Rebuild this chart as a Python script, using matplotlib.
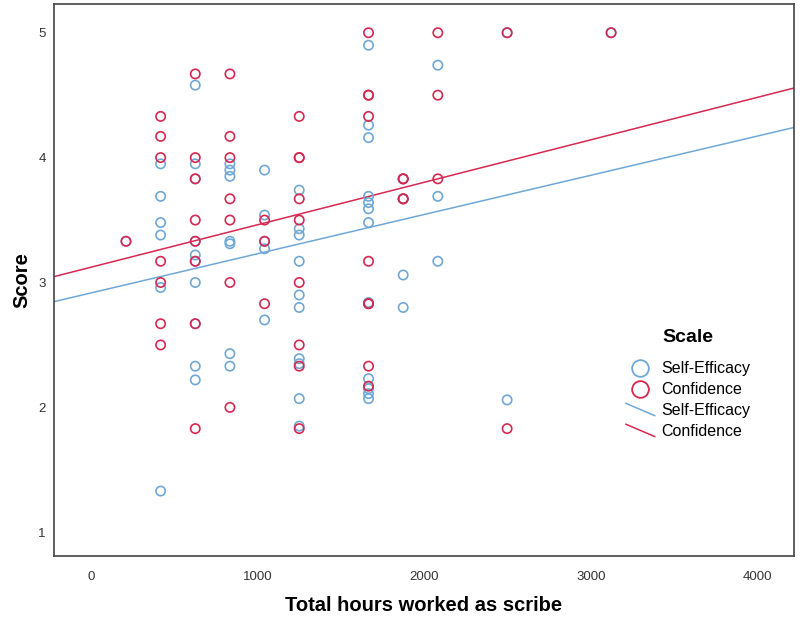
import matplotlib
matplotlib.use("Agg")
import matplotlib.pyplot as plt
from matplotlib.lines import Line2D
from matplotlib.legend_handler import HandlerBase
import numpy as np

plt.rcParams['font.family'] = ['Liberation Sans', 'DejaVu Sans']

# hours worked (one column of points per value)
hours = [208, 416, 624, 832, 1040, 1248, 1664, 1872, 2080, 2496, 3120]

# scores, per hours column
self_efficacy = [
    [3.33],
    [3.95, 3.69, 3.48, 3.38, 2.96, 1.33],
    [4.58, 3.95, 3.83, 3.33, 3.22, 3.17, 3.0, 2.67, 2.33, 2.22],
    [3.95, 3.90, 3.85, 3.33, 3.31, 2.43, 2.33],
    [3.90, 3.54, 3.33, 3.27, 2.70],
    [3.74, 3.43, 3.38, 3.17, 2.90, 2.80, 2.39, 2.35, 2.07, 1.85],
    [4.90, 4.26, 4.16, 3.69, 3.64, 3.59, 3.48, 2.84, 2.23, 2.15, 2.11, 2.07],
    [3.83, 3.67, 3.06, 2.80],
    [4.74, 3.69, 3.17],
    [5.0, 2.06],
    [5.0],
]
confidence = [
    [3.33],
    [4.33, 4.17, 4.0, 3.17, 3.0, 2.67, 2.5],
    [4.67, 4.0, 3.83, 3.5, 3.33, 3.17, 2.67, 1.83],
    [4.67, 4.17, 4.0, 3.67, 3.5, 3.0, 2.0],
    [3.5, 3.33, 2.83],
    [4.33, 4.0, 4.0, 3.67, 3.5, 3.0, 2.5, 2.33, 1.83],
    [5.0, 4.5, 4.5, 4.33, 3.17, 2.83, 2.83, 2.33, 2.17],
    [3.83, 3.83, 3.67, 3.67],
    [5.0, 4.5, 3.83],
    [5.0, 1.83],
    [5.0],
]

# fit lines (intercept, slope)
se_fit = (2.917, 0.000314)
conf_fit = (3.123, 0.000340)

xticks = [0, 1000, 2000, 3000, 4000]
yticks = [1, 2, 3, 4, 5]

blue = '#6fa8d6'
red = '#d62850'


def flatten(cols):
    xs, ys = [], []
    for h, vals in zip(hours, cols):
        xs += [h] * len(vals)
        ys += vals
    return xs, ys


class DiagHandler(HandlerBase):
    def create_artists(self, legend, orig_handle, xdescent, ydescent,
                       width, height, fontsize, trans):
        x0, y0 = -xdescent, -ydescent
        ln = Line2D([x0, x0 + width], [y0 + height * 1.05, y0 - height * 0.05],
                    color=orig_handle.get_color(), lw=orig_handle.get_linewidth(),
                    transform=trans)
        return [ln]


fig = plt.figure(figsize=(8, 6.21), dpi=100)
ax = fig.add_axes([54 / 800, 65 / 621, 740 / 800, 552 / 621])

sx, sy = flatten(self_efficacy)
cx, cy = flatten(confidence)
ax.scatter(sx, sy, s=45, facecolors='none', edgecolors=blue, linewidths=1.2, zorder=3)
ax.scatter(cx, cy, s=45, facecolors='none', edgecolors=red, linewidths=1.2, zorder=3)

ax.axline((0, se_fit[0]), slope=se_fit[1], color=blue, lw=1.1, zorder=2)
ax.axline((0, conf_fit[0]), slope=conf_fit[1], color=red, lw=1.1, zorder=2)

ax.set_xlim(-224, 4218)
ax.set_ylim(0.81, 5.23)
ax.set_xticks(xticks)
ax.set_yticks(yticks)
ax.tick_params(length=0, labelsize=9.5, labelcolor='#333333')
ax.tick_params(axis='x', pad=11)
ax.tick_params(axis='y', pad=6)
for sp in ax.spines.values():
    sp.set_color('#444444')
    sp.set_linewidth(1.2)

ax.set_xlabel('Total hours worked as scribe', fontsize=14.5, fontweight='bold', labelpad=9)
ax.set_ylabel('Score', fontsize=14.5, fontweight='bold', labelpad=5)

handles = [
    Line2D([], [], ls='none', marker='o', ms=12, mfc='none', mec=blue, mew=1.3),
    Line2D([], [], ls='none', marker='o', ms=12, mfc='none', mec=red, mew=1.3),
    Line2D([], [], color=blue, lw=1.1),
    Line2D([], [], color=red, lw=1.1),
]
labels = ['Self-Efficacy', 'Confidence', 'Self-Efficacy', 'Confidence']
hmap = {handles[2]: DiagHandler(), handles[3]: DiagHandler()}
leg = ax.legend(handles, labels, handler_map=hmap, title='Scale',
                loc='upper left', bbox_to_anchor=(626 / 800, 1 - 329 / 621),
                bbox_transform=fig.transFigure, frameon=False, borderpad=0,
                fontsize=11.5, handlelength=1.8, handletextpad=0.4,
                labelspacing=0.37, borderaxespad=0)
leg.get_title().set_fontsize(14)
leg.get_title().set_fontweight('bold')
leg._legend_box.sep = 11

fig.savefig('out.png', dpi=100)
